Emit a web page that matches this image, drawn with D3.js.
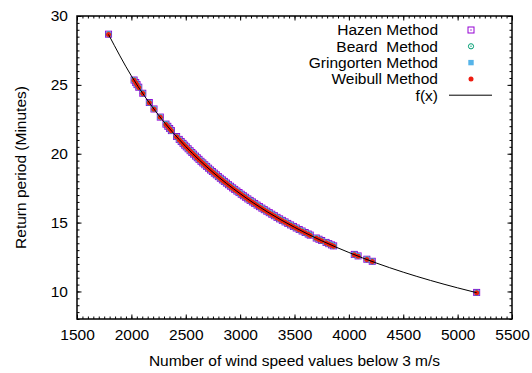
<!DOCTYPE html>
<html>
<head>
<meta charset="utf-8">
<script src="https://cdn.jsdelivr.net/npm/d3@7"></script>
<style>
  body { margin: 0; background: #fff; }
  svg { display: block; font-family: "Liberation Sans", Arial, sans-serif; }
  .tick text { font-size: 15.5px; fill: #000; }
</style>
</head>
<body>
<svg id="chart" width="532" height="373"></svg>
<script>
// number of wind speed values below 3 m/s
const windCounts = [1790, 2025, 2040, 2052, 2068, 2105, 2165, 2208, 2266, 2318, 2335, 2352, 2368, 2416,
  2440, 2458, 2475, 2490, 2505, 2522, 2540, 2556, 2572, 2590, 2606, 2622, 2640, 2657, 2675, 2692,
  2710, 2728, 2745, 2763, 2781, 2800, 2818, 2837, 2855, 2874, 2893, 2912, 2931, 2950, 2970, 2990,
  3010, 3030, 3050, 3071, 3092, 3113, 3134, 3156, 3178, 3200, 3222, 3245, 3268, 3291, 3315, 3339,
  3363, 3388, 3413, 3438, 3464, 3490, 3516, 3543, 3570, 3598, 3626, 3645, 3700, 3725, 3750, 3790,
  3815, 3840, 3860, 4050, 4085, 4165, 4215, 5175];

// return period (minutes) per method
const hazenT = [28.68, 25.35, 25.17, 25.02, 24.83, 24.39, 23.72, 23.25, 22.66, 22.15, 21.99, 21.83, 21.68, 21.25,
  21.04, 20.89, 20.75, 20.62, 20.50, 20.36, 20.22, 20.09, 19.97, 19.83, 19.71, 19.59, 19.45, 19.33, 19.20, 19.08,
  18.95, 18.82, 18.71, 18.59, 18.47, 18.34, 18.22, 18.10, 17.99, 17.87, 17.75, 17.64, 17.52, 17.41, 17.29, 17.18,
  17.06, 16.95, 16.84, 16.72, 16.61, 16.50, 16.39, 16.27, 16.16, 16.05, 15.94, 15.83, 15.72, 15.61, 15.50, 15.38,
  15.27, 15.16, 15.05, 14.94, 14.83, 14.72, 14.61, 14.50, 14.39, 14.28, 14.17, 14.09, 13.88, 13.79, 13.70, 13.56,
  13.47, 13.38, 13.31, 12.69, 12.58, 12.34, 12.19, 9.93];
const beardT = [28.67, 25.34, 25.16, 25.01, 24.82, 24.38, 23.71, 23.24, 22.65, 22.14, 21.98, 21.82, 21.67, 21.24,
  21.03, 20.88, 20.74, 20.61, 20.49, 20.35, 20.21, 20.08, 19.96, 19.82, 19.70, 19.58, 19.44, 19.32, 19.19, 19.07,
  18.94, 18.81, 18.70, 18.58, 18.46, 18.33, 18.21, 18.09, 17.98, 17.86, 17.74, 17.63, 17.51, 17.40, 17.28, 17.17,
  17.05, 16.94, 16.83, 16.71, 16.60, 16.49, 16.38, 16.26, 16.15, 16.04, 15.93, 15.82, 15.71, 15.60, 15.49, 15.37,
  15.26, 15.15, 15.04, 14.93, 14.82, 14.71, 14.60, 14.49, 14.38, 14.27, 14.16, 14.08, 13.87, 13.78, 13.69, 13.55,
  13.46, 13.37, 13.30, 12.68, 12.57, 12.33, 12.18, 9.92];
const gringortenT = [28.67, 25.34, 25.16, 25.01, 24.82, 24.38, 23.71, 23.24, 22.65, 22.14, 21.98, 21.82, 21.67, 21.24,
  21.03, 20.88, 20.74, 20.61, 20.49, 20.35, 20.21, 20.08, 19.96, 19.82, 19.70, 19.58, 19.44, 19.32, 19.19, 19.07,
  18.94, 18.81, 18.70, 18.58, 18.46, 18.33, 18.21, 18.09, 17.98, 17.86, 17.74, 17.63, 17.51, 17.40, 17.28, 17.17,
  17.05, 16.94, 16.83, 16.71, 16.60, 16.49, 16.38, 16.26, 16.15, 16.04, 15.93, 15.82, 15.71, 15.60, 15.49, 15.37,
  15.26, 15.15, 15.04, 14.93, 14.82, 14.71, 14.60, 14.49, 14.38, 14.27, 14.16, 14.08, 13.87, 13.78, 13.69, 13.55,
  13.46, 13.37, 13.30, 12.68, 12.57, 12.33, 12.18, 9.92];
const weibullT = [28.66, 25.33, 25.15, 25.00, 24.81, 24.37, 23.70, 23.23, 22.64, 22.13, 21.97, 21.81, 21.66, 21.23,
  21.02, 20.87, 20.73, 20.60, 20.48, 20.34, 20.20, 20.07, 19.95, 19.81, 19.69, 19.57, 19.43, 19.31, 19.18, 19.06,
  18.93, 18.80, 18.69, 18.57, 18.45, 18.32, 18.20, 18.08, 17.97, 17.85, 17.73, 17.62, 17.50, 17.39, 17.27, 17.16,
  17.04, 16.93, 16.82, 16.70, 16.59, 16.48, 16.37, 16.25, 16.14, 16.03, 15.92, 15.81, 15.70, 15.59, 15.48, 15.36,
  15.25, 15.14, 15.03, 14.92, 14.81, 14.70, 14.59, 14.48, 14.37, 14.26, 14.15, 14.07, 13.86, 13.77, 13.68, 13.54,
  13.45, 13.36, 13.29, 12.67, 12.56, 12.32, 12.17, 9.91];

// fitted curve f(x)
const fitX = [1790, 2000, 2250, 2500, 2750, 3000, 3250, 3500, 3750, 4000, 4250, 4500, 4750, 5000, 5175];
const fitY = [28.66, 25.65, 22.80, 20.52, 18.65, 17.10, 15.78, 14.66, 13.68, 12.83, 12.07, 11.40, 10.80, 10.26, 9.91];

const xTicks = [1500, 2000, 2500, 3000, 3500, 4000, 4500, 5000, 5500];
const yTicks = [10, 15, 20, 25, 30];

const legendLabels = ['Hazen Method', 'Beard  Method', 'Gringorten Method', 'Weibull Method', 'f(x)'];

const dim = { l: 77, r: 512, t: 16, b: 319 };

const svg = d3.select('#chart');
svg.append('rect').attr('width', 532).attr('height', 373).attr('fill', '#fff');

const scaleX = d3.scaleLinear().domain([1500, 5500]).range([dim.l, dim.r]);
const scaleY = d3.scaleLinear().domain([8, 30]).range([dim.b, dim.t]);

const xMinor = d3.range(1500, 5501, 50);
const yMinor = d3.range(8, 30.01, 0.5);

const addAxis = (axis, transform, showText) => {
  const g = svg.append('g').attr('transform', transform).call(axis);
  g.select('.domain').remove();
  g.selectAll('line').attr('stroke', '#000').attr('stroke-width', 1);
  if (!showText) g.selectAll('text').remove();
  return g;
};

// minor ticks, all four sides
addAxis(d3.axisBottom(scaleX).tickValues(xMinor).tickSize(-2.5).tickFormat(''), `translate(0,${dim.b})`, false);
addAxis(d3.axisTop(scaleX).tickValues(xMinor).tickSize(-2.5).tickFormat(''), `translate(0,${dim.t})`, false);
addAxis(d3.axisLeft(scaleY).tickValues(yMinor).tickSize(-2.5).tickFormat(''), `translate(${dim.l},0)`, false);
addAxis(d3.axisRight(scaleY).tickValues(yMinor).tickSize(-2.5).tickFormat(''), `translate(${dim.r},0)`, false);

// major ticks
const xAxis = addAxis(
  d3.axisBottom(scaleX).tickValues(xTicks).tickSize(-4.5).tickPadding(10).tickFormat(d3.format('d')),
  `translate(0,${dim.b})`, true,
);
addAxis(d3.axisTop(scaleX).tickValues(xTicks).tickSize(-4.5).tickFormat(''), `translate(0,${dim.t})`, false);
const yAxis = addAxis(
  d3.axisLeft(scaleY).tickValues(yTicks).tickSize(-4.5).tickPadding(9).tickFormat(d3.format('d')),
  `translate(${dim.l},0)`, true,
);
addAxis(d3.axisRight(scaleY).tickValues(yTicks).tickSize(-4.5).tickFormat(''), `translate(${dim.r},0)`, false);

xAxis.selectAll('text').attr('font-family', null).attr('font-size', null);
yAxis.selectAll('text').attr('font-family', null).attr('font-size', null);

// frame
svg.append('rect')
  .attr('x', dim.l).attr('y', dim.t)
  .attr('width', dim.r - dim.l).attr('height', dim.b - dim.t)
  .attr('fill', 'none').attr('stroke', '#000').attr('stroke-width', 1.5);

// axis titles
svg.append('text')
  .attr('x', (dim.l + dim.r) / 2).attr('y', 366)
  .attr('text-anchor', 'middle').attr('font-size', 15.5)
  .text('Number of wind speed values below 3 m/s');

svg.append('text')
  .attr('transform', `translate(26,${(dim.t + dim.b) / 2}) rotate(-90)`)
  .attr('text-anchor', 'middle').attr('font-size', 15.5)
  .text('Return period (Minutes)');

// marker drawers
const drawHazen = (g, x, y) => {
  g.append('rect').attr('x', x - 3).attr('y', y - 3).attr('width', 6).attr('height', 6)
    .attr('fill', 'none').attr('stroke', '#9400d3').attr('stroke-width', 1);
  g.append('rect').attr('x', x - 0.6).attr('y', y - 0.6).attr('width', 1.2).attr('height', 1.2).attr('fill', '#9400d3');
};
const drawBeard = (g, x, y) => {
  g.append('circle').attr('cx', x).attr('cy', y).attr('r', 2.6)
    .attr('fill', 'none').attr('stroke', '#009e73').attr('stroke-width', 1);
  g.append('circle').attr('cx', x).attr('cy', y).attr('r', 0.7).attr('fill', '#009e73');
};
const drawGringorten = (g, x, y) => {
  g.append('rect').attr('x', x - 2.7).attr('y', y - 2.7).attr('width', 5.4).attr('height', 5.4).attr('fill', '#56b4e9');
};
const drawWeibull = (g, x, y) => {
  g.append('circle').attr('cx', x).attr('cy', y).attr('r', 2.5).attr('fill', '#ee1c10');
};

const series = [
  { values: hazenT, draw: drawHazen },
  { values: beardT, draw: drawBeard },
  { values: gringortenT, draw: drawGringorten },
  { values: weibullT, draw: drawWeibull },
];

series.forEach((s) => {
  const g = svg.append('g');
  windCounts.forEach((c, i) => s.draw(g, scaleX(c), scaleY(s.values[i])));
});

// fitted curve
const lineGenerator = d3.line()
  .x((d, i) => scaleX(fitX[i]))
  .y((d) => scaleY(d))
  .curve(d3.curveMonotoneX);

svg.append('path')
  .attr('d', lineGenerator(fitY))
  .attr('fill', 'none').attr('stroke', '#000').attr('stroke-width', 1);

// legend
const legend = svg.append('g');
const legendMarkers = [drawHazen, drawBeard, drawGringorten, drawWeibull];
legendLabels.forEach((label, i) => {
  const y = 30 + i * 16.3;
  legend.append('text')
    .attr('x', 438).attr('y', y).attr('dy', '0.35em')
    .attr('text-anchor', 'end').attr('font-size', 15.5)
    .attr('xml:space', 'preserve').style('white-space', 'pre')
    .text(label);
  if (legendMarkers[i]) {
    legendMarkers[i](legend, 471, y);
  } else {
    legend.append('line').attr('x1', 449).attr('x2', 492).attr('y1', y).attr('y2', y)
      .attr('stroke', '#000').attr('stroke-width', 1);
  }
});
</script>
</body>
</html>
